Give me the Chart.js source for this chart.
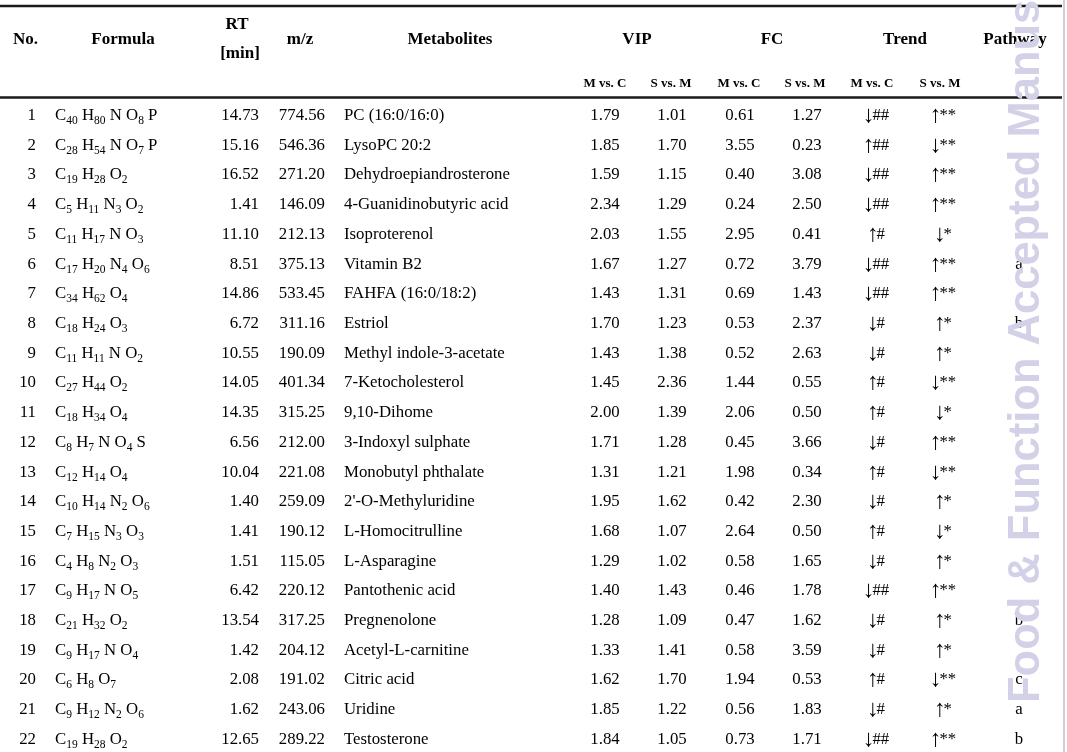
<!DOCTYPE html>
<html>
<head>
<meta charset="utf-8">
<script src="https://cdn.jsdelivr.net/npm/chart.js@4.4.1/dist/chart.umd.min.js"></script>
<style>
  html, body { margin: 0; padding: 0; background: #fff; }
  canvas { display: block; }
</style>
</head>
<body>
<canvas id="metaTable" width="1067" height="752"></canvas>
<script>
// Table values, one array per column
const rowNo = [1, 2, 3, 4, 5, 6, 7, 8, 9, 10, 11, 12, 13, 14, 15, 16, 17, 18, 19, 20, 21, 22];
const formulas = [
  'C40 H80 N O8 P', 'C28 H54 N O7 P', 'C19 H28 O2', 'C5 H11 N3 O2', 'C11 H17 N O3',
  'C17 H20 N4 O6', 'C34 H62 O4', 'C18 H24 O3', 'C11 H11 N O2', 'C27 H44 O2',
  'C18 H34 O4', 'C8 H7 N O4 S', 'C12 H14 O4', 'C10 H14 N2 O6', 'C7 H15 N3 O3',
  'C4 H8 N2 O3', 'C9 H17 N O5', 'C21 H32 O2', 'C9 H17 N O4', 'C6 H8 O7',
  'C9 H12 N2 O6', 'C19 H28 O2'
];
const rtMin = [14.73, 15.16, 16.52, 1.41, 11.10, 8.51, 14.86, 6.72, 10.55, 14.05, 14.35,
  6.56, 10.04, 1.40, 1.41, 1.51, 6.42, 13.54, 1.42, 2.08, 1.62, 12.65];
const mz = [774.56, 546.36, 271.20, 146.09, 212.13, 375.13, 533.45, 311.16, 190.09, 401.34, 315.25,
  212.00, 221.08, 259.09, 190.12, 115.05, 220.12, 317.25, 204.12, 191.02, 243.06, 289.22];
const metabolites = [
  'PC (16:0/16:0)', 'LysoPC 20:2', 'Dehydroepiandrosterone', '4-Guanidinobutyric acid',
  'Isoproterenol', 'Vitamin B2', 'FAHFA (16:0/18:2)', 'Estriol', 'Methyl indole-3-acetate',
  '7-Ketocholesterol', '9,10-Dihome', '3-Indoxyl sulphate', 'Monobutyl phthalate',
  "2'-O-Methyluridine", 'L-Homocitrulline', 'L-Asparagine', 'Pantothenic acid',
  'Pregnenolone', 'Acetyl-L-carnitine', 'Citric acid', 'Uridine', 'Testosterone'
];
const vipMC = [1.79, 1.85, 1.59, 2.34, 2.03, 1.67, 1.43, 1.70, 1.43, 1.45, 2.00,
  1.71, 1.31, 1.95, 1.68, 1.29, 1.40, 1.28, 1.33, 1.62, 1.85, 1.84];
const vipSM = [1.01, 1.70, 1.15, 1.29, 1.55, 1.27, 1.31, 1.23, 1.38, 2.36, 1.39,
  1.28, 1.21, 1.62, 1.07, 1.02, 1.43, 1.09, 1.41, 1.70, 1.22, 1.05];
const fcMC = [0.61, 3.55, 0.40, 0.24, 2.95, 0.72, 0.69, 0.53, 0.52, 1.44, 2.06,
  0.45, 1.98, 0.42, 2.64, 0.58, 0.46, 0.47, 0.58, 1.94, 0.56, 0.73];
const fcSM = [1.27, 0.23, 3.08, 2.50, 0.41, 3.79, 1.43, 2.37, 2.63, 0.55, 0.50,
  3.66, 0.34, 2.30, 0.50, 1.65, 1.78, 1.62, 3.59, 0.53, 1.83, 1.71];
const trendMC = ['↓##', '↑##', '↓##', '↓##', '↑#', '↓##', '↓##', '↓#', '↓#', '↑#', '↑#',
  '↓#', '↑#', '↓#', '↑#', '↓#', '↓##', '↓#', '↓#', '↑#', '↓#', '↓##'];
const trendSM = ['↑**', '↓**', '↑**', '↑**', '↓*', '↑**', '↑**', '↑*', '↑*', '↓**', '↓*',
  '↑**', '↓**', '↑*', '↓*', '↑*', '↑**', '↑*', '↑*', '↓**', '↑*', '↑**'];
const pathway = ['', '', '', '', '', 'a', '', 'b', '', '', '',
  '', '', '', '', '', '', 'b', '', 'c', 'a', 'b'];

const headers = ['No.', 'Formula', 'm/z', 'Metabolites', 'VIP', 'FC', 'Trend', 'Pathway'];
const subHeaders = ['M vs. C', 'S vs. M', 'M vs. C', 'S vs. M', 'M vs. C', 'S vs. M'];

// layout (x in px units of the x scale, y in row units of the y scale)
const ROW_H = 29.71;
const FIRST_Y = 114;
const W = 1067, H = 752;
const SERIF = '"Liberation Serif", "Times New Roman", serif';
const BODY_FONT = '16.8px ' + SERIF;
const SUB_FONT = '11.5px ' + SERIF;
const ARROW_FONT = '24px ' + SERIF;
const HEAD_FONT = 'bold 17px ' + SERIF;
const SUBHEAD_FONT = 'bold 13px ' + SERIF;

const fmt = v => v.toFixed(2);
const columns = [
  { x: 36, align: 'right', text: rowNo.map(String) },
  { x: 55, align: 'left', text: formulas, formula: true },
  { x: 259, align: 'right', text: rtMin.map(fmt) },
  { x: 325, align: 'right', text: mz.map(fmt) },
  { x: 344, align: 'left', text: metabolites },
  { x: 605, align: 'center', text: vipMC.map(fmt) },
  { x: 672, align: 'center', text: vipSM.map(fmt) },
  { x: 740, align: 'center', text: fcMC.map(fmt) },
  { x: 807, align: 'center', text: fcSM.map(fmt) },
  { x: 876, align: 'center', text: trendMC, trend: true },
  { x: 943, align: 'center', text: trendSM, trend: true },
  { x: 1019, align: 'center', text: pathway }
];
const headerPos = [
  { x: 13, align: 'left' }, { x: 123, align: 'center' }, { x: 300, align: 'center' },
  { x: 450, align: 'center' }, { x: 637, align: 'center' }, { x: 772, align: 'center' },
  { x: 905, align: 'center' }, { x: 1015, align: 'center' }
];
const subHeaderX = [605, 671, 739, 805, 872, 940];
const rowOf = px => 1 + (px - FIRST_Y) / ROW_H;

function drawFormula(ctx, str, x, y) {
  str.split(' ').forEach(group => {
    const m = group.match(/^([A-Z][a-z]?)(\d*)$/);
    ctx.font = BODY_FONT;
    ctx.fillText(m[1], x, y);
    x += ctx.measureText(m[1]).width;
    if (m[2]) {
      ctx.font = SUB_FONT;
      ctx.fillText(m[2], x, y + 4);
      x += ctx.measureText(m[2]).width;
    }
    ctx.font = BODY_FONT;
    x += ctx.measureText(' ').width;
  });
}

// arrow drawn larger than the marks after it, whole thing centred
function drawTrend(ctx, str, cx, y) {
  const arrow = str[0], rest = str.slice(1);
  ctx.font = ARROW_FONT;
  const aw = ctx.measureText(arrow).width * 0.8;
  ctx.font = BODY_FONT;
  const rw = ctx.measureText(rest).width;
  let x = cx - (aw + rw) / 2;
  ctx.textAlign = 'left';
  ctx.font = ARROW_FONT;
  ctx.fillText(arrow, x, y + 2);
  ctx.font = BODY_FONT;
  ctx.fillText(rest, x + aw, y);
}

const tablePlugin = {
  id: 'tableText',
  afterDatasetsDraw(chart) {
    const ctx = chart.ctx;
    const xs = chart.scales.x, ys = chart.scales.y;
    const px = v => xs.getPixelForValue(v);
    const py = v => ys.getPixelForValue(v);
    ctx.save();
    ctx.fillStyle = '#000';
    ctx.textBaseline = 'alphabetic';

    // rules
    ctx.strokeStyle = '#1a1a1a';
    ctx.lineWidth = 2.4;
    [rowOf(6), rowOf(97.5)].forEach(r => {
      ctx.beginPath();
      ctx.moveTo(px(0), py(r));
      ctx.lineTo(px(1062), py(r));
      ctx.stroke();
    });

    // header
    ctx.font = HEAD_FONT;
    headers.forEach((h, i) => {
      ctx.textAlign = headerPos[i].align;
      ctx.fillText(h, px(headerPos[i].x), py(rowOf(43.5)));
    });
    ctx.textAlign = 'center';
    ctx.fillText('RT', px(237), py(rowOf(28.5)));
    ctx.fillText('[min]', px(240), py(rowOf(58)));
    ctx.font = SUBHEAD_FONT;
    subHeaders.forEach((s, i) => ctx.fillText(s, px(subHeaderX[i]), py(rowOf(87))));

    // body cells, placed at each dataset point
    chart.data.datasets.forEach((ds, di) => {
      const col = columns[di];
      chart.getDatasetMeta(di).data.forEach((el, i) => {
        const t = col.text[i];
        if (!t) return;
        const y = el.y + 6;
        if (col.formula) {
          ctx.textAlign = 'left';
          drawFormula(ctx, t, el.x, y);
        } else if (col.trend) {
          drawTrend(ctx, t, el.x, y);
        } else {
          ctx.font = BODY_FONT;
          ctx.textAlign = col.align;
          ctx.fillText(t, el.x, y);
        }
      });
    });

    // page edge
    ctx.strokeStyle = '#cfcfcf';
    ctx.lineWidth = 2;
    ctx.beginPath();
    ctx.moveTo(px(1064), 0);
    ctx.lineTo(px(1064), H);
    ctx.stroke();

    // watermark
    ctx.translate(px(1039), py(rowOf(703)));
    ctx.rotate(-Math.PI / 2);
    ctx.font = 'bold 43.5px "Liberation Sans", Arial, sans-serif';
    ctx.fillStyle = '#d3d1e7';
    ctx.textAlign = 'left';
    ctx.fillText('Food & Function Accepted Manuscript', 0, 0);
    ctx.restore();
  }
};

const ctx = document.getElementById('metaTable').getContext('2d');
const metaTable = new Chart(ctx, {
  type: 'scatter',
  data: {
    datasets: columns.map((col, ci) => ({
      label: 'col' + ci,
      data: rowNo.map(r => ({ x: col.x, y: r })),
      pointRadius: 0,
      pointHoverRadius: 0
    }))
  },
  options: {
    responsive: false,
    animation: false,
    devicePixelRatio: 1,
    layout: { padding: 0 },
    events: [],
    scales: {
      x: { type: 'linear', display: false, min: 0, max: W },
      y: { type: 'linear', display: false, reverse: true, min: rowOf(0), max: rowOf(H) }
    },
    plugins: {
      legend: { display: false },
      tooltip: { enabled: false }
    }
  },
  plugins: [tablePlugin]
});
</script>
</body>
</html>
